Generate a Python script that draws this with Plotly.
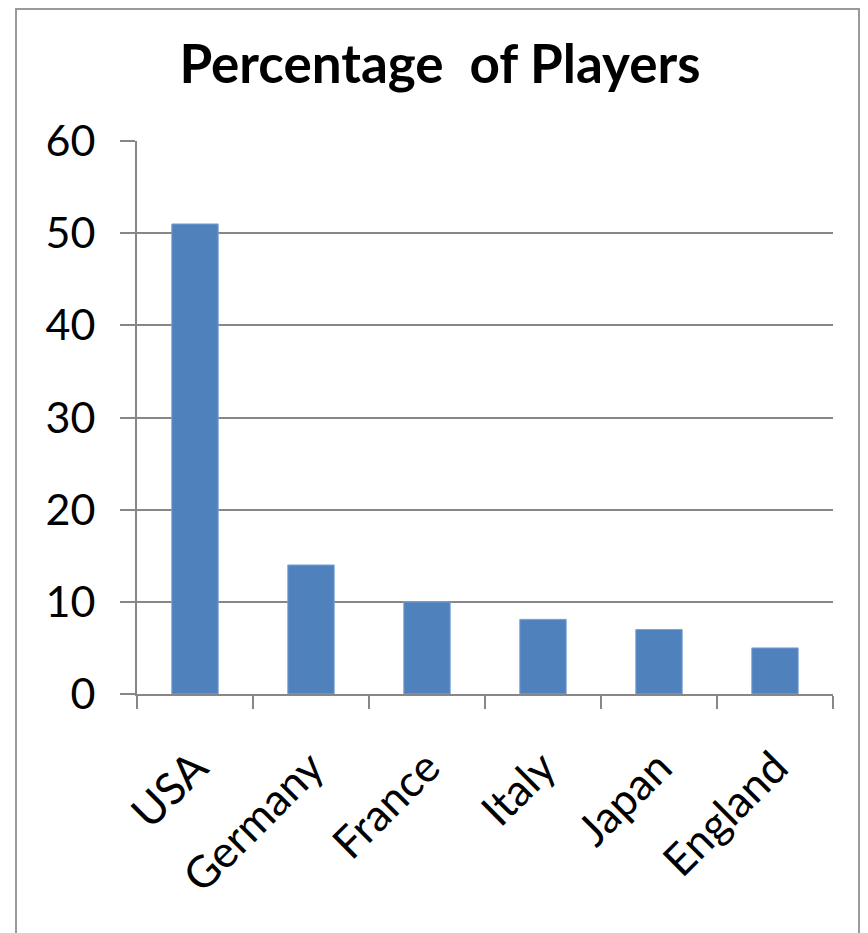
import plotly.graph_objects as go

countries = ["USA", "Germany", "France", "Italy", "Japan", "England"]
percentages = [51, 14, 10, 8.1, 7, 5]
y_ticks = [0, 10, 20, 30, 40, 50, 60]

# the page body has an 8px margin, so the figure is placed at (8, 8)
OFF = 8
W, H = 868 - OFF, 933 - OFF
L, R, T, B = 137 - OFF, 833 - OFF, 141 - OFF, 694 - OFF

fig = go.Figure(go.Bar(
    x=countries, y=percentages,
    marker=dict(color="#4F81BD", line=dict(color="#7EA3D3", width=1)),
    width=0.4,
))

def px2paperx(p):
    return (p - L) / (R - L)

def px2papery(p):
    return (B - p) / (B - T)

fig.add_shape(type="rect", xref="paper", yref="paper",
              x0=px2paperx(16 - OFF), x1=px2paperx(859 - OFF), y0=px2papery(H + 20), y1=px2papery(1),
              line=dict(color="#9a9a9a", width=2), fillcolor="rgba(0,0,0,0)", layer="below")

fig.update_layout(
    width=W, height=H,
    margin=dict(l=L, r=W - R, t=T, b=H - B, pad=0),
    paper_bgcolor="white", plot_bgcolor="white",
    font=dict(family="Lato, sans-serif", color="black"),
    title=dict(text="<b>Percentage  of Players</b>", x=(440 - OFF) / W, xanchor="center",
               y=1 - (64 - OFF) / H, yanchor="middle", font=dict(size=53, family="Lato, sans-serif")),
    showlegend=False,
    bargap=0.6,
)
fig.update_xaxes(
    type="category", tickangle=-45, tickfont=dict(size=44),
    showline=True, linecolor="#878787", linewidth=2,
    ticks="outside", tickson="boundaries", ticklen=13, tickcolor="#878787", tickwidth=2,
    showgrid=False, ticklabelstandoff=28,
)
fig.update_yaxes(
    range=[0, 60], tickvals=y_ticks, tickfont=dict(size=43),
    showline=True, linecolor="#878787", linewidth=2,
    ticks="outside", ticklen=15, tickcolor="#878787", tickwidth=2,
    showgrid=True, gridcolor="#878787", gridwidth=2, zeroline=False,
    ticklabelstandoff=16,
)

fig.write_html("out.html")
